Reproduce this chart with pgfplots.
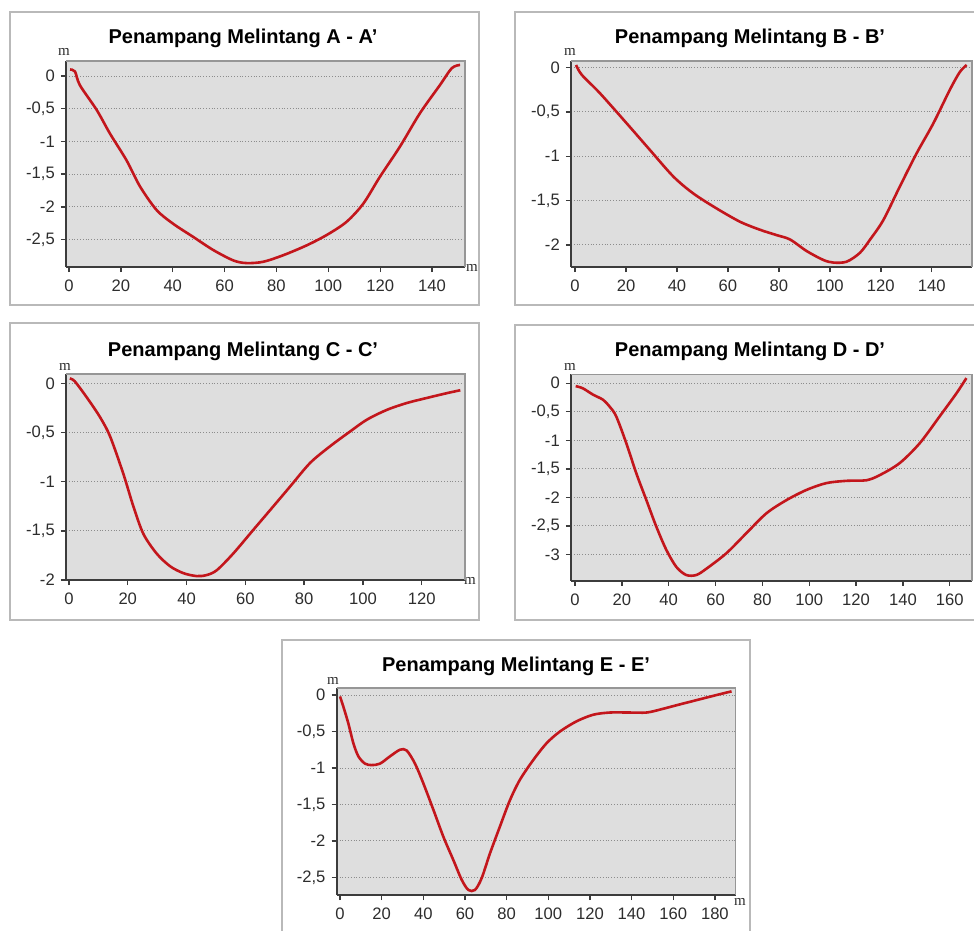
\documentclass[border=0pt]{standalone}
\usepackage{pgfplots}
\pgfplotsset{compat=1.18}
\usepackage{fontspec}
\setmainfont{Liberation Sans}
\newfontfamily\seriffont{Liberation Serif}
\definecolor{bgcol}{RGB}{222,222,222}
\definecolor{axcol}{RGB}{60,60,60}
\definecolor{bordcol}{RGB}{150,150,150}
\definecolor{gridcol}{RGB}{140,140,140}
\definecolor{framecol}{RGB}{185,185,185}
\definecolor{curvecol}{RGB}{195,22,28}
\definecolor{tickcol}{RGB}{45,45,45}
\newcommand{\ap}{{\char"27}}
\pgfplotsset{
  curve/.style={draw=curvecol, line width=1.3pt, smooth, tension=0.5, mark=none},
  panel/.style={
    scale only axis,
    axis x line*=bottom, axis y line*=left,
    axis line style={axcol, line width=0.8pt},
    axis background/.style={fill=bgcol},
    tick align=outside,
    major tick length=2.6pt,
    tick style={axcol, line width=0.7pt},
    ymajorgrids,
    grid style={gridcol, densely dotted, line width=0.5pt},
    ticklabel style={font=\fontsize{8.3}{9}\selectfont, text=tickcol},
    /pgf/number format/use comma,
    /pgf/number format/assume math mode=true,
    yticklabel style={xshift=0.5pt},
    xticklabel style={yshift=-0.5pt},
    after end axis/.code={\draw[bordcol, line width=0.6pt] (rel axis cs:0,1) -- (rel axis cs:1,1) -- (rel axis cs:1,0);},
    anchor=south west,
  }
}
\begin{document}
\begin{tikzpicture}[x=0.5pt, y=-0.5pt]
\useasboundingbox (0,0) rectangle (974,931);
% panel frames
\draw[framecol, line width=0.6pt, fill=white] (10,12) rectangle (479,305);
\draw[framecol, line width=0.6pt, fill=white] (515,12) rectangle (990,305);
\draw[framecol, line width=0.6pt, fill=white] (10,323) rectangle (479,620);
\draw[framecol, line width=0.6pt, fill=white] (515,325) rectangle (990,620);
\draw[framecol, line width=0.6pt, fill=white] (282,640) rectangle (750,945);
% anchor points of the axes
\coordinate (pA) at (66,267);
\coordinate (pB) at (571,267);
\coordinate (pC) at (66,580);
\coordinate (pD) at (571,580.7);
\coordinate (pE) at (336.7,895);
% titles
\node[font=\bfseries\fontsize{10}{12}\selectfont] at (243,38) {Penampang Melintang A - A\ap};
\node[font=\bfseries\fontsize{10}{12}\selectfont] at (750,38) {Penampang Melintang B - B\ap};
\node[font=\bfseries\fontsize{10}{12}\selectfont] at (243,351) {Penampang Melintang C - C\ap};
\node[font=\bfseries\fontsize{10}{12}\selectfont] at (750,351) {Penampang Melintang D - D\ap};
\node[font=\bfseries\fontsize{10}{12}\selectfont] at (516,666) {Penampang Melintang E - E\ap};
% unit labels
\foreach \p in {(64,52),(570,52),(65,367),(570,367),(333,681),(472,268),(470,581),(740,902)}
  \node[font=\seriffont\fontsize{7.5}{8}\selectfont, text=tickcol, inner sep=0pt] at \p {m};
\foreach \p in {(976,268),(976,581)}
  \node[font=\seriffont\fontsize{7.5}{8}\selectfont, text=tickcol, inner sep=0pt, anchor=west] at \p {m};

% A
\begin{axis}[panel, at={(pA)}, width=199.5pt, height=103pt,
  xmin=-1.16, xmax=152.7, ymin=-2.92, ymax=0.23,
  xtick={0,20,...,140}, ytick={-2.5,-2,-1.5,-1,-0.5,0}]
\addplot[curve] coordinates {(0.4,0.10)(2.3,0.07)(4.2,-0.14)(10.7,-0.52)(15.8,-0.88)(22.2,-1.29)(27.4,-1.69)(33.8,-2.05)(40.2,-2.26)(47.9,-2.46)(55.6,-2.66)(63.4,-2.82)(68.5,-2.86)(74.9,-2.84)(82.6,-2.74)(91.6,-2.59)(99.4,-2.43)(107,-2.23)(113.5,-1.95)(119.9,-1.54)(127.6,-1.08)(135.3,-0.57)(143,-0.14)(147.6,0.12)(150.8,0.17)};
\end{axis}

% B
\begin{axis}[panel, at={(pB)}, width=200.5pt, height=103pt,
  xmin=-1.6, xmax=155.8, ymin=-2.25, ymax=0.075,
  xtick={0,20,...,140}, ytick={-2,-1.5,-1,-0.5,0}]
\addplot[curve] coordinates {(0.4,0.03)(2.6,-0.08)(9.8,-0.29)(20.3,-0.63)(29.4,-0.93)(38.6,-1.23)(46.4,-1.42)(55.6,-1.59)(64.8,-1.74)(72.6,-1.83)(79.1,-1.89)(84.4,-1.94)(90.9,-2.07)(97.4,-2.17)(101.4,-2.20)(106.6,-2.19)(111.8,-2.09)(115.8,-1.94)(121,-1.72)(127.5,-1.34)(134,-0.97)(140.6,-0.63)(147.1,-0.25)(151,-0.05)(153.7,0.03)};
\end{axis}

% C
\begin{axis}[panel, at={(pC)}, width=199.5pt, height=103pt,
  xmin=-1.0, xmax=134.7, ymin=-2.0, ymax=0.095,
  xtick={0,20,...,120}, ytick={-2,-1.5,-1,-0.5,0}]
\addplot[curve] coordinates {(0.3,0.05)(2.0,0.02)(6.0,-0.14)(10.5,-0.34)(14,-0.54)(18.5,-0.92)(21.9,-1.25)(25.3,-1.53)(29.8,-1.73)(34.4,-1.86)(38.9,-1.93)(43.4,-1.96)(46.8,-1.95)(50.3,-1.90)(55.9,-1.73)(62.7,-1.49)(68.4,-1.29)(75.2,-1.05)(82,-0.81)(88.8,-0.64)(95.6,-0.49)(101.3,-0.37)(108.1,-0.27)(114.9,-0.20)(122.9,-0.14)(128.5,-0.10)(133.1,-0.07)};
\end{axis}

% D
\begin{axis}[panel, at={(pD)}, width=200.5pt, height=103.3pt,
  xmin=-1.7, xmax=169.5, ymin=-3.46, ymax=0.16,
  xtick={0,20,...,160}, ytick={-3,-2.5,-2,-1.5,-1,-0.5,0}]
\addplot[curve] coordinates {(0.3,-0.05)(3.4,-0.09)(7.7,-0.20)(12,-0.29)(14.8,-0.41)(17.6,-0.58)(21.9,-1.05)(26.2,-1.58)(30.5,-2.05)(34.7,-2.51)(39,-2.92)(43.3,-3.22)(47.5,-3.36)(51.8,-3.36)(56.1,-3.25)(64.6,-2.98)(73.1,-2.63)(81.7,-2.28)(90.2,-2.05)(98.8,-1.87)(107.3,-1.75)(115.9,-1.71)(124.4,-1.70)(130.1,-1.61)(138.6,-1.40)(147.2,-1.05)(155.7,-0.58)(162.8,-0.18)(167.1,0.09)};
\end{axis}

% E
\begin{axis}[panel, at={(pE)}, width=199.5pt, height=103.5pt,
  xmin=-1.6, xmax=190, ymin=-2.74, ymax=0.096,
  xtick={0,20,...,180}, ytick={-2.5,-2,-1.5,-1,-0.5,0}]
\addplot[curve] coordinates {(0,-0.02)(1.6,-0.16)(4,-0.39)(6.4,-0.66)(8.8,-0.84)(12,-0.94)(15.2,-0.96)(19.2,-0.94)(24,-0.84)(28.8,-0.75)(32,-0.76)(36,-0.94)(40,-1.21)(44.8,-1.57)(49.6,-1.94)(54.4,-2.26)(58.4,-2.53)(61.6,-2.67)(64.8,-2.67)(68,-2.51)(72,-2.17)(76.8,-1.80)(81.6,-1.44)(86.4,-1.16)(92.8,-0.89)(99.2,-0.66)(105.6,-0.50)(113.6,-0.36)(121.6,-0.27)(129.6,-0.24)(139.2,-0.24)(147.2,-0.24)(153.6,-0.20)(161.6,-0.14)(171.2,-0.07)(180.8,0.0)(188,0.05)};
\end{axis}
\end{tikzpicture}
\end{document}
